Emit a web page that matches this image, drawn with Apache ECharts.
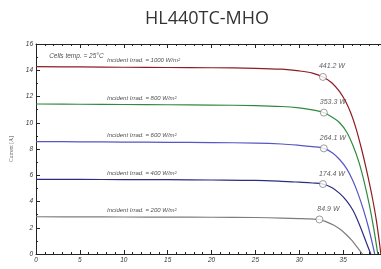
<!DOCTYPE html>
<html>
<head>
<meta charset="utf-8">
<script src="https://cdn.jsdelivr.net/npm/echarts@6/dist/echarts.min.js"></script>
<style>
  html, body { margin: 0; padding: 0; background: #fff; }
  #chart { width: 381px; height: 269px; }
</style>
</head>
<body>
<div id="chart"></div>
<script>
// I-V curves [voltage, current]
var curve1000 = [[0,14.27],[5,14.25],[10,14.23],[15,14.21],[20,14.19],[25,14.15],[28,14.08],[30,13.95],[31.5,13.78],[32.7,13.49],[33.7,13.05],[34.6,12.37],[35.3,11.6],[35.9,10.7],[36.5,9.5],[37.1,8.0],[37.7,6.3],[38.3,4.4],[38.8,2.5],[39.3,0]];
var curve800 = [[0,11.43],[5,11.41],[10,11.39],[15,11.37],[20,11.35],[25,11.31],[28,11.24],[30,11.13],[31.5,10.98],[32.8,10.77],[33.8,10.4],[34.6,10.0],[35.4,9.3],[36.1,8.3],[36.8,7.0],[37.4,5.5],[38.0,3.7],[38.5,1.9],[38.95,0]];
var curve600 = [[0,8.56],[5,8.55],[10,8.53],[15,8.51],[20,8.49],[25,8.45],[28,8.38],[30,8.28],[31.5,8.18],[32.8,8.05],[33.8,7.7],[34.6,7.2],[35.4,6.5],[36.1,5.6],[36.7,4.6],[37.3,3.4],[37.9,2.0],[38.6,0]];
var curve400 = [[0,5.69],[5,5.68],[10,5.67],[15,5.66],[20,5.64],[25,5.61],[28,5.54],[30,5.47],[31.5,5.41],[32.7,5.33],[33.7,5.07],[34.6,4.62],[35.4,4.05],[36.1,3.35],[36.6,2.65],[37.1,1.83],[37.6,0.95],[38.15,0]];
var curve200 = [[0,2.84],[5,2.83],[10,2.82],[15,2.81],[20,2.80],[25,2.78],[28,2.74],[30,2.70],[31.3,2.67],[32.3,2.63],[33.1,2.45],[33.9,2.21],[34.7,1.86],[35.4,1.45],[36.0,1.03],[36.6,0.52],[37.2,0]];

// maximum power points
var mppV = [32.7, 32.8, 32.8, 32.7, 32.3];
var mppI = [13.49, 10.77, 8.05, 5.33, 2.63];
var mppText = ['441.2 W', '353.3 W', '264.1 W', '174.4 W', '84.9 W'];

// irradiance captions
var irradText = ['Incident Irrad. = 1000 W/m²', 'Incident Irrad. = 800 W/m²', 'Incident Irrad. = 600 W/m²', 'Incident Irrad. = 400 W/m²', 'Incident Irrad. = 200 W/m²'];
var irradI = [14.72, 11.88, 9.01, 6.14, 3.29];
var irradV = 8.1;

var xTicks = [0, 40, 5];
var yTicks = [0, 16, 2];

var colors = ['#8e1d22', '#2f8a3f', '#5656c4', '#2a2e80', '#7d7d7d'];
var curves = [curve1000, curve800, curve600, curve400, curve200];

var chart = echarts.init(document.getElementById('chart'), null, {renderer: 'canvas'});

var tickLabel = {
  fontSize: 6.5,
  fontStyle: 'italic',
  fontFamily: 'Liberation Sans',
  color: '#333'
};

var series = [];
for (var i = 0; i < curves.length; i++) {
  series.push({
    type: 'line',
    data: curves[i],
    smooth: 0.35,
    showSymbol: false,
    symbol: 'none',
    lineStyle: {color: colors[i], width: 1.2},
    z: 2
  });
}

// MPP markers
var mppData = [];
for (var j = 0; j < mppV.length; j++) {
  mppData.push({value: [mppV[j], mppI[j]], label: {formatter: mppText[j]}});
}
series.push({
  type: 'scatter',
  data: mppData,
  symbol: 'circle',
  symbolSize: 7,
  itemStyle: {color: '#fff', borderColor: '#666', borderWidth: 0.8},
  label: {
    show: true,
    position: 'top',
    distance: 3,
    offset: [9, 0],
    fontSize: 7,
    fontStyle: 'italic',
    fontFamily: 'Liberation Sans',
    color: '#333'
  },
  z: 5
});

// text captions
var capData = [{value: [1.5, 15.1], label: {formatter: 'Cells temp. = 25°C', fontSize: 6.5}}];
for (var k = 0; k < irradText.length; k++) {
  capData.push({value: [irradV, irradI[k]], label: {formatter: irradText[k]}});
}
series.push({
  type: 'scatter',
  data: capData,
  symbolSize: 0,
  silent: true,
  label: {
    show: true,
    position: 'right',
    distance: 0,
    fontSize: 6,
    fontStyle: 'italic',
    fontFamily: 'Liberation Sans',
    color: '#222'
  },
  z: 4
});

chart.setOption({
  animation: false,
  backgroundColor: '#fff',
  title: {
    text: 'HL440TC-MHO',
    left: 202,
    top: 5,
    textAlign: 'center',
    textStyle: {fontFamily: 'Open Sans', fontSize: 18, fontWeight: 'normal', color: '#333'}
  },
  grid: {left: 36, top: 44, right: -6, bottom: 15, outerBoundsMode: 'none', containLabel: false},
  xAxis: [
    {
      type: 'value',
      min: xTicks[0], max: xTicks[1], interval: xTicks[2],
      name: 'Voltage [V]',
      nameLocation: 'middle',
      nameGap: 11,
      nameTextStyle: {fontSize: 6.5, fontStyle: 'italic', fontFamily: 'Liberation Sans', color: '#333'},
      axisLine: {lineStyle: {color: '#222', width: 1}},
      axisTick: {inside: true, length: 4, lineStyle: {color: '#222'}},
      minorTick: {show: true, splitNumber: 5, length: 2, lineStyle: {color: '#222'}},
      axisLabel: Object.assign({margin: 3}, tickLabel),
      splitLine: {show: false}
    },
    {
      type: 'value',
      position: 'top',
      min: xTicks[0], max: xTicks[1], interval: xTicks[2],
      axisLine: {lineStyle: {color: '#222', width: 1}},
      axisTick: {inside: true, length: 4, lineStyle: {color: '#222'}},
      minorTick: {show: true, splitNumber: 5, length: 2, lineStyle: {color: '#222'}},
      axisLabel: {show: false},
      splitLine: {show: false}
    }
  ],
  yAxis: {
    type: 'value',
    min: yTicks[0], max: yTicks[1], interval: yTicks[2],
    name: 'Current [A]',
    nameLocation: 'middle',
    nameGap: 19,
    nameTextStyle: {fontSize: 5.5, fontFamily: 'Liberation Serif', color: '#444'},
    axisLine: {show: true, lineStyle: {color: '#222', width: 1}},
    axisTick: {show: true, inside: true, length: 4, lineStyle: {color: '#222'}},
    minorTick: {show: true, splitNumber: 2, length: 2, lineStyle: {color: '#222'}},
    axisLabel: Object.assign({margin: 3}, tickLabel),
    splitLine: {show: false}
  },
  series: series
});
</script>
</body>
</html>
